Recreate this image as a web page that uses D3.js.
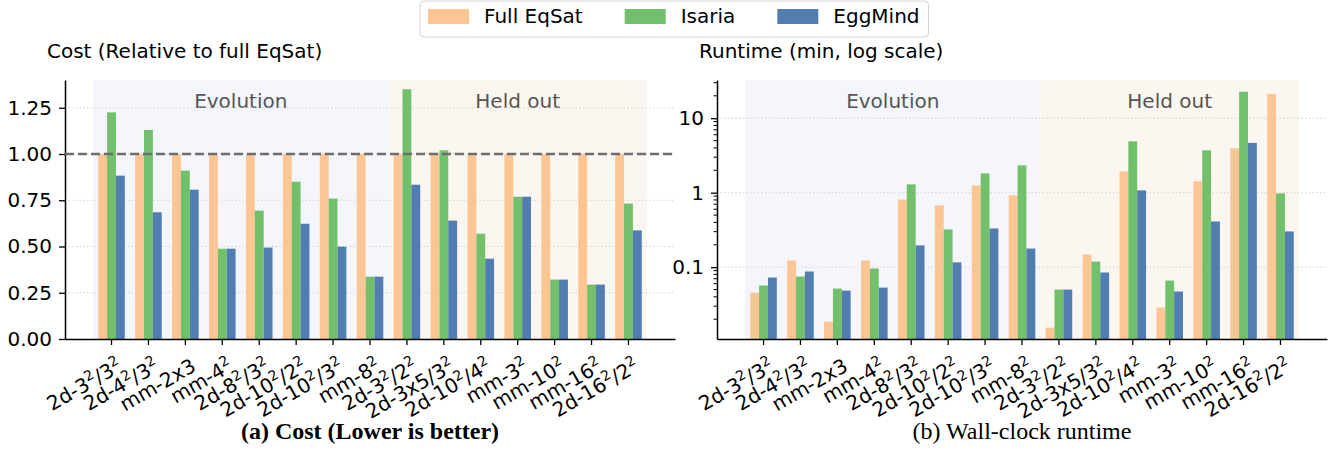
<!DOCTYPE html>
<html>
<head>
<meta charset="utf-8">
<title>Cost and runtime</title>
<style>
body { margin: 0; background: #fff; }
text { font-family: "DejaVu Sans", sans-serif; }
.caption { font-family: "Liberation Serif", "DejaVu Serif", serif; }
</style>
<script src="https://cdn.jsdelivr.net/npm/d3@7"></script>
</head>
<body>
<div id="chart"></div>
<script>
var categories = ["2d-3²/3²", "2d-4²/3²", "mm-2x3", "mm-4²", "2d-8²/3²", "2d-10²/2²", "2d-10²/3²", "mm-8²",
  "2d-3²/2²", "2d-3x5/3²", "2d-10²/4²", "mm-3²", "mm-10²", "mm-16²", "2d-16²/2²"];
var seriesNames = ["Full EqSat", "Isaria", "EggMind"];
var seriesColors = ["#fcc594", "#72c06c", "#517db0"];

// cost, relative to full EqSat
var costFull    = [1, 1, 1, 1, 1, 1, 1, 1, 1, 1, 1, 1, 1, 1, 1];
var costIsaria  = [1.225, 1.13, 0.91, 0.488, 0.694, 0.85, 0.759, 0.337, 1.35, 1.02, 0.569, 0.769, 0.321, 0.294, 0.732];
var costEggMind = [0.883, 0.685, 0.807, 0.488, 0.494, 0.623, 0.499, 0.337, 0.834, 0.64, 0.434, 0.769, 0.321, 0.294, 0.587];

// runtime in minutes
var runFull    = [0.0456, 0.123, 0.0186, 0.123, 0.813, 0.676, 1.255, 0.921, 0.0154, 0.148, 1.94, 0.0287, 1.42, 3.95, 21.3];
var runIsaria  = [0.0567, 0.0749, 0.0516, 0.096, 1.294, 0.321, 1.82, 2.33, 0.05, 0.119, 4.9, 0.0662, 3.71, 22.7, 0.98];
var runEggMind = [0.0726, 0.0875, 0.0485, 0.0532, 0.196, 0.116, 0.331, 0.178, 0.05, 0.0848, 1.075, 0.0471, 0.411, 4.67, 0.302];

var costTicks = [0, 0.25, 0.5, 0.75, 1, 1.25];
var runTicks = [0.1, 1, 10];
var regions = [{name: "Evolution", from: 0, to: 7, color: "#f4f6fb"},
               {name: "Held out", from: 8, to: 14, color: "#fbf6f0"}];

var W = 1338, H = 451, plotTop = 80, plotBottom = 339;

var svg = d3.select("#chart").append("svg")
  .attr("width", W)
  .attr("height", H);

function panel(left, right, y, data, ticks, fmt, title, caption, bold, isLog) {
  var g = svg.append("g");
  var x = d3.scaleBand().domain(categories).range([left, right]).paddingInner(0).paddingOuter(0.76);
  var step = x.step();
  var xs = d3.scaleBand().domain(seriesNames).range([0, step * 0.72]);

  // shaded regions
  regions.forEach(function(r) {
    var x0 = x(categories[r.from]), x1 = x(categories[r.to]) + step;
    g.append("rect")
      .attr("x", x0).attr("y", plotTop)
      .attr("width", x1 - x0).attr("height", plotBottom - plotTop)
      .attr("fill", r.color);
    g.append("text")
      .attr("x", (x0 + x1) / 2).attr("y", 108)
      .attr("text-anchor", "middle")
      .style("font-size", "20px")
      .attr("fill", "#555")
      .text(r.name);
  });

  // grid
  g.selectAll(".grid").data(ticks.filter(function(t) { return t > 0; })).enter()
    .append("line")
    .attr("x1", left).attr("x2", right)
    .attr("y1", function(d) { return y(d); }).attr("y2", function(d) { return y(d); })
    .attr("stroke", "#c8c8c8").attr("stroke-width", 1)
    .attr("stroke-dasharray", "1.2,2.5");

  // bars
  var base = y.range()[0];
  data.forEach(function(vals, s) {
    g.append("g").attr("fill", seriesColors[s])
      .selectAll("rect").data(vals).enter()
      .append("rect")
      .attr("x", function(d, i) { return x(categories[i]) + step / 2 - step * 0.36 + xs(seriesNames[s]); })
      .attr("width", xs.bandwidth())
      .attr("y", function(d) { return y(d); })
      .attr("height", function(d) { return base - y(d); });
  });

  // y axis
  var yAxis = d3.axisLeft(y).tickValues(ticks).tickFormat(fmt).tickSize(6).tickSizeOuter(0).tickPadding(7);
  var ya = g.append("g").attr("transform", "translate(" + left + ",0)").call(yAxis);
  ya.selectAll("text").style("font-size", "20px").style("font-family", "DejaVu Sans").attr("fill", "#000");
  ya.selectAll("line").attr("stroke-width", 1.3);
  ya.select(".domain").attr("stroke-width", 1.5);

  if (isLog) {
    var minor = [];
    var dom = y.domain();
    for (var e = -3; e <= 2; e++) {
      for (var k = 2; k <= 9; k++) {
        var v = k * Math.pow(10, e);
        if (v > dom[0] && v < dom[1]) minor.push(v);
      }
    }
    g.selectAll(".minor").data(minor).enter()
      .append("line")
      .attr("x1", left - 3.5).attr("x2", left)
      .attr("y1", function(d) { return y(d); }).attr("y2", function(d) { return y(d); })
      .attr("stroke", "#000").attr("stroke-width", 1);
  }

  // x axis
  var xAxis = d3.axisBottom(x).tickSize(6).tickSizeOuter(0).tickFormat("");
  var xa = g.append("g").attr("transform", "translate(0," + plotBottom + ")").call(xAxis);
  xa.selectAll("line").attr("stroke-width", 1.3);
  xa.select(".domain").attr("stroke-width", 1.5);

  categories.forEach(function(c) {
    var t = g.append("text")
      .attr("transform", "translate(" + (x(c) + step / 2 + 12) + ",370) rotate(-30)")
      .attr("text-anchor", "end")
      .style("font-size", "20px");
    var parts = c.split("²");
    parts.forEach(function(p, i) {
      if (p.length) t.append("tspan").attr("dy", i > 0 ? 8 : 0).text(p);
      else if (i > 0) t.append("tspan").attr("dy", 8).text("");
      if (i < parts.length - 1) t.append("tspan").attr("dy", -8).style("font-size", "14px").text("2");
    });
  });

  // panel title
  g.append("text")
    .attr("x", left - 18).attr("y", 58)
    .style("font-size", "20px")
    .text(title);

  g.append("text")
    .attr("class", "caption")
    .attr("x", (left + right) / 2).attr("y", 439)
    .attr("text-anchor", "middle")
    .style("font-size", "24px")
    .style("font-weight", bold ? "bold" : "normal")
    .text(caption);

  return {g: g, x: x, y: y};
}

var yCost = d3.scaleLinear().domain([0, 1.4]).range([plotBottom, plotTop]);
var p1 = panel(65, 675, yCost, [costFull, costIsaria, costEggMind], costTicks, d3.format(".2f"),
  "Cost (Relative to full EqSat)", "(a) Cost (Lower is better)", true, false);

// reference line at 1.0
p1.g.append("line")
  .attr("x1", 65).attr("x2", 675)
  .attr("y1", yCost(1)).attr("y2", yCost(1))
  .attr("stroke", "#6e6e6e").attr("stroke-width", 2.6)
  .attr("stroke-dasharray", "9,4");

var yRun = d3.scaleLog().domain([0.01086, 32.6]).range([plotBottom, plotTop]);
panel(717, 1327, yRun, [runFull, runIsaria, runEggMind], runTicks, function(d) { return d3.format("~g")(d); },
  "Runtime (min, log scale)", "(b) Wall-clock runtime", false, true);

// legend
var legend = svg.append("g").attr("class", "legend");
var frame = legend.append("rect")
  .attr("x", 420).attr("y", 1).attr("height", 36).attr("rx", 4)
  .attr("fill", "#fff").attr("stroke", "#d4d4d4").attr("stroke-width", 1);
var lx = 428;
seriesNames.forEach(function(name, i) {
  legend.append("rect")
    .attr("x", lx).attr("y", 9).attr("width", 41).attr("height", 15)
    .attr("fill", seriesColors[i]);
  var t = legend.append("text")
    .attr("x", lx + 56).attr("y", 23)
    .style("font-size", "20px")
    .text(name);
  lx = lx + 56 + t.node().getComputedTextLength() + 42;
});
frame.attr("width", lx - 42 + 9 - 420);
</script>
</body>
</html>
